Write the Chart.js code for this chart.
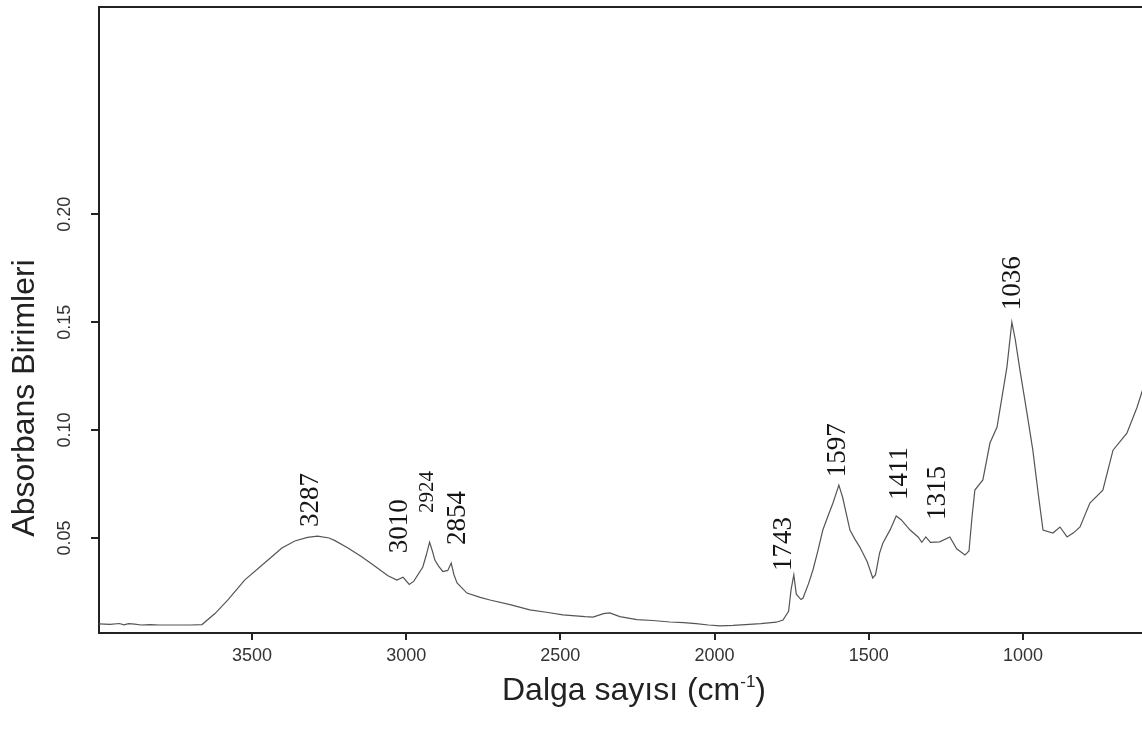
<!DOCTYPE html>
<html>
<head>
<meta charset="utf-8">
<script src="https://cdn.jsdelivr.net/npm/chart.js@4"></script>
<style>
	html, body { margin: 0; padding: 0; background: #fff; }
	#wrap { width: 1142px; height: 729px; }
</style>
</head>
<body>
<div id="wrap"><canvas id="ftir" width="1142" height="729"></canvas></div>
<script>
// FTIR spectrum
// ================================================================================
let wavenumbers = [3996, 3960, 3930, 3915, 3900, 3880, 3860, 3830, 3800, 3750,
	3700, 3662, 3620, 3578, 3523, 3448, 3403, 3361, 3320, 3287,
	3250, 3231, 3190, 3143, 3100, 3059, 3030, 3010, 2990, 2975,
	2946, 2935, 2924, 2915, 2907, 2895, 2881, 2865, 2854, 2845,
	2835, 2803, 2760, 2728, 2660, 2599, 2540, 2492, 2420, 2394,
	2360, 2340, 2307, 2252, 2200, 2145, 2100, 2060, 2020, 1983,
	1940, 1900, 1850, 1800, 1778, 1760, 1752, 1743, 1735, 1720,
	1713, 1695, 1681, 1665, 1649, 1630, 1616, 1597, 1585, 1561,
	1545, 1529, 1505, 1487, 1478, 1465, 1454, 1430, 1411, 1395,
	1366, 1340, 1328, 1315, 1300, 1270, 1237, 1215, 1188, 1175,
	1165, 1156, 1130, 1107, 1084, 1052, 1036, 1025, 1010, 987,
	968, 950, 935, 903, 880, 857, 835, 815, 783, 741,
	708, 663, 630, 600];

let absorbance = [0.0102, 0.0100, 0.0104, 0.0098, 0.0103, 0.0101, 0.0097, 0.0099, 0.0097, 0.0097,
	0.0097, 0.0099, 0.0150, 0.0213, 0.0306, 0.0398, 0.0454, 0.0486, 0.0503, 0.0509,
	0.0500, 0.0488, 0.0455, 0.0412, 0.0368, 0.0325, 0.0305, 0.0318, 0.0285, 0.0300,
	0.0366, 0.0420, 0.0481, 0.0440, 0.0398, 0.0370, 0.0345, 0.0350, 0.0384, 0.0330,
	0.0292, 0.0245, 0.0225, 0.0213, 0.0190, 0.0167, 0.0155, 0.0144, 0.0136, 0.0134,
	0.0150, 0.0153, 0.0136, 0.0122, 0.0118, 0.0111, 0.0108, 0.0103, 0.0097, 0.0093,
	0.0095, 0.0099, 0.0103, 0.0110, 0.0120, 0.0160, 0.0260, 0.0329, 0.0240, 0.0215,
	0.0222, 0.0290, 0.0352, 0.0440, 0.0537, 0.0610, 0.0662, 0.0745, 0.0690, 0.0537,
	0.0495, 0.0458, 0.0390, 0.0315, 0.0330, 0.0430, 0.0477, 0.0540, 0.0602, 0.0585,
	0.0537, 0.0505, 0.0480, 0.0505, 0.0480, 0.0482, 0.0505, 0.0450, 0.0421, 0.0440,
	0.0600, 0.0722, 0.0769, 0.0940, 0.1014, 0.1292, 0.1500, 0.1420, 0.1280, 0.1079,
	0.0907, 0.0700, 0.0537, 0.0523, 0.0551, 0.0505, 0.0525, 0.0551, 0.0662, 0.0722,
	0.0907, 0.0986, 0.1106, 0.1240];

// labelled band positions (cm-1)
let peaks = [3287, 3010, 2924, 2854, 1743, 1597, 1411, 1315, 1036];

let x_ticks = [3500, 3000, 2500, 2000, 1500, 1000];
let y_ticks = [0.05, 0.10, 0.15, 0.20];

const AXIS_COLOR = '#222';
const TICK_FONT = {family: '"Liberation Sans Narrow", "Liberation Sans", Arial, sans-serif', size: 18};

// Plugins
// ================================================================================
// top edge of the plot box
let frame_plugin = {
	id: 'frame',
	afterDraw(chart) {
		let {ctx, chartArea} = chart;
		ctx.save();
		ctx.strokeStyle = AXIS_COLOR;
		ctx.lineWidth = 2;
		ctx.beginPath();
		ctx.moveTo(chartArea.left - 1, chartArea.top);
		ctx.lineTo(chartArea.right, chartArea.top);
		ctx.stroke();
		ctx.restore();
	}
};

// vertical band labels sitting on top of each peak
let peak_label_plugin = {
	id: 'peakLabels',
	afterDatasetsDraw(chart, args, opts) {
		let {ctx, scales: {x, y}} = chart;
		peaks.forEach((wn, i) => {
			let idx = wavenumbers.indexOf(wn);
			let px = x.getPixelForValue(wn) + opts.dx[i];
			let py = y.getPixelForValue(absorbance[idx]) - opts.lift[i];
			ctx.save();
			ctx.translate(px, py);
			ctx.rotate(-Math.PI / 2);
			ctx.font = opts.size[i] + 'px "Liberation Serif", "Times New Roman", serif';
			ctx.fillStyle = '#151515';
			ctx.textAlign = 'left';
			ctx.textBaseline = 'middle';
			ctx.fillText(String(wn), 0, 0);
			ctx.restore();
		});
	}
};

// axis titles, the x one needs a superscript
let axis_title_plugin = {
	id: 'axisTitles',
	afterDraw(chart) {
		let {ctx, chartArea} = chart;
		ctx.save();
		ctx.fillStyle = '#222';
		ctx.textBaseline = 'middle';

		// y title
		ctx.save();
		ctx.translate(25, chartArea.bottom - 235);
		ctx.rotate(-Math.PI / 2);
		ctx.font = '32px "Liberation Sans", Arial, sans-serif';
		ctx.textAlign = 'center';
		ctx.fillText('Absorbans Birimleri', 0, 0);
		ctx.restore();

		// x title
		let main = '32px "Liberation Sans", Arial, sans-serif';
		let sup = '17px "Liberation Sans", Arial, sans-serif';
		let parts = [['Dalga sayısı (cm', main, 0], ['-1', sup, -9], [')', main, 0]];
		let total = 0;
		parts.forEach(p => { ctx.font = p[1]; total += ctx.measureText(p[0]).width; });
		let cx = 634 - total / 2;
		let cy = chartArea.bottom + 58;
		ctx.textAlign = 'left';
		parts.forEach(p => {
			ctx.font = p[1];
			ctx.fillText(p[0], cx, cy + p[2]);
			cx += ctx.measureText(p[0]).width;
		});
		ctx.restore();
	}
};

// Chart
// ================================================================================
new Chart(document.getElementById('ftir'), {
	type: 'line',
	data: {
		datasets: [{
			data: wavenumbers.map((w, i) => ({x: w, y: absorbance[i]})),
			borderColor: '#555',
			borderWidth: 1.2,
			pointRadius: 0,
			fill: false,
			tension: 0
		}]
	},
	options: {
		responsive: false,
		devicePixelRatio: 1,
		animation: false,
		layout: {padding: {top: 7, left: 0, right: 0, bottom: 0}},
		plugins: {
			legend: {display: false},
			tooltip: {enabled: false},
			peakLabels: {
				dx: [-7, -3, -2, 7, -10, -1, 4, 12, 1],
				lift: [9, 24, 29, 18, 4, 8, 16, 17, 12],
				size: [27, 27, 21, 27, 27, 27, 27, 27, 27]
			}
		},
		scales: {
			x: {
				type: 'linear',
				reverse: true,
				min: 614,
				max: 3996,
				afterBuildTicks: s => { s.ticks = x_ticks.map(v => ({value: v})); },
				afterFit: s => { s.height = 96; s.paddingLeft = 0; s.paddingRight = 0; },
				grid: {drawOnChartArea: false, drawTicks: true, tickLength: 7, color: AXIS_COLOR, lineWidth: 2},
				border: {display: true, color: AXIS_COLOR, width: 2},
				ticks: {
					color: '#333',
					font: TICK_FONT,
					padding: 5,
					maxRotation: 0,
					autoSkip: false,
					callback: v => String(v)
				}
			},
			y: {
				type: 'linear',
				min: 0.006,
				max: 0.296,
				afterBuildTicks: s => { s.ticks = y_ticks.map(v => ({value: v})); },
				afterFit: s => { s.width = 99; s.paddingTop = 0; s.paddingBottom = 0; },
				grid: {drawOnChartArea: false, drawTicks: true, tickLength: 8, color: AXIS_COLOR, lineWidth: 2},
				border: {display: true, color: AXIS_COLOR, width: 2},
				ticks: {
					color: '#333',
					font: TICK_FONT,
					padding: 8,
					minRotation: 90,
					maxRotation: 90,
					crossAlign: 'center',
					autoSkip: false,
					callback: v => v.toFixed(2)
				}
			}
		}
	},
	plugins: [frame_plugin, peak_label_plugin, axis_title_plugin]
});
</script>
</body>
</html>
